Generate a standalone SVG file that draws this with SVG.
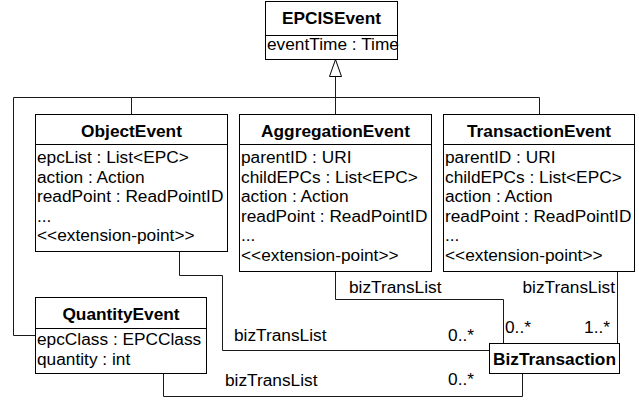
<svg xmlns="http://www.w3.org/2000/svg" width="639" height="400" viewBox="0 0 639 400">
  <style>
    .box { fill: #ffffff; stroke: #000000; stroke-width: 1; }
    .sep { stroke: #000000; stroke-width: 1; }
    .title { font-family: "Liberation Sans", Arial, sans-serif; font-size: 17.3px; font-weight: bold; fill: #000000; text-anchor: middle; }
    .attr { font-family: "Liberation Sans", Arial, sans-serif; font-size: 17.3px; fill: #000000; }
    .lbl { font-family: "Liberation Sans", Arial, sans-serif; font-size: 17.3px; fill: #000000; }
    .end { text-anchor: end; }
    .wire { fill: none; stroke: #1a1a1a; stroke-width: 1; }
  </style>
  <rect width="639" height="400" fill="#ffffff"/>

  <!-- connectors: generalization tree and associations -->
  <g id="connectors">
    <path class="wire" d="M13.5 335.5 V97.5 H539.5 V114.5"/>
    <path class="wire" d="M131.5 97.5 V114.5"/>
    <path class="wire" d="M335.5 76.5 V114.5"/>
    <path class="wire" d="M13.5 335.5 H35.5"/>
    <polygon points="335.5,59.5 341.5,76.5 329.5,76.5" fill="#ffffff" stroke="#000000" stroke-width="1"/>

    <path class="wire" d="M179.5 251.5 V275.5 H222.5 V350.5 H489.5"/>
    <path class="wire" d="M335.5 271.5 V299.5 H503.5 V343.5"/>
    <path class="wire" d="M617.5 271.5 V343.5"/>
    <path class="wire" d="M163.5 373.5 V396.5 H522.5 V373.5"/>

    <text class="lbl" x="349" y="293">bizTransList</text>
    <text class="lbl end" x="615" y="293">bizTransList</text>
    <text class="lbl" x="505" y="333">0..*</text>
    <text class="lbl end" x="610" y="333">1..*</text>
    <text class="lbl" x="234" y="340.5">bizTransList</text>
    <text class="lbl end" x="474" y="340.5">0..*</text>
    <text class="lbl" x="225" y="386">bizTransList</text>
    <text class="lbl end" x="474" y="385">0..*</text>
  </g>

  <g id="EPCISEvent">
    <rect class="box" x="265.5" y="1.5" width="132" height="58"/>
    <line class="sep" x1="265.5" y1="35.5" x2="397.5" y2="35.5"/>
    <text class="title" x="331.5" y="24">EPCISEvent</text>
    <text class="attr" x="267" y="50">eventTime : Time</text>
  </g>

  <g id="ObjectEvent">
    <rect class="box" x="35.5" y="114.5" width="192" height="137"/>
    <line class="sep" x1="35.5" y1="144.5" x2="227.5" y2="144.5"/>
    <text class="title" x="131.5" y="136.5">ObjectEvent</text>
    <text class="attr" x="37" y="163">epcList : List&lt;EPC&gt;</text>
    <text class="attr" x="37" y="182.5">action : Action</text>
    <text class="attr" x="37" y="202">readPoint : ReadPointID</text>
    <text class="attr" x="37" y="221.5">...</text>
    <text class="attr" x="37" y="241">&lt;&lt;extension-point&gt;&gt;</text>
  </g>

  <g id="AggregationEvent">
    <rect class="box" x="239.5" y="114.5" width="192" height="157"/>
    <line class="sep" x1="239.5" y1="144.5" x2="431.5" y2="144.5"/>
    <text class="title" x="335.5" y="136.5">AggregationEvent</text>
    <text class="attr" x="241" y="163">parentID : URI</text>
    <text class="attr" x="241" y="182.5">childEPCs : List&lt;EPC&gt;</text>
    <text class="attr" x="241" y="202">action : Action</text>
    <text class="attr" x="241" y="221.5">readPoint : ReadPointID</text>
    <text class="attr" x="241" y="241">...</text>
    <text class="attr" x="241" y="260.5">&lt;&lt;extension-point&gt;&gt;</text>
  </g>

  <g id="TransactionEvent">
    <rect class="box" x="443.5" y="114.5" width="191" height="157"/>
    <line class="sep" x1="443.5" y1="144.5" x2="634.5" y2="144.5"/>
    <text class="title" x="539" y="136.5">TransactionEvent</text>
    <text class="attr" x="445" y="163">parentID : URI</text>
    <text class="attr" x="445" y="182.5">childEPCs : List&lt;EPC&gt;</text>
    <text class="attr" x="445" y="202">action : Action</text>
    <text class="attr" x="445" y="221.5">readPoint : ReadPointID</text>
    <text class="attr" x="445" y="241">...</text>
    <text class="attr" x="445" y="260.5">&lt;&lt;extension-point&gt;&gt;</text>
  </g>

  <g id="QuantityEvent">
    <rect class="box" x="35.5" y="297.5" width="171" height="76"/>
    <line class="sep" x1="35.5" y1="328.5" x2="206.5" y2="328.5"/>
    <text class="title" x="121" y="319.5">QuantityEvent</text>
    <text class="attr" x="37" y="345">epcClass : EPCClass</text>
    <text class="attr" x="37" y="364.5">quantity : int</text>
  </g>

  <g id="BizTransaction">
    <rect class="box" x="489.5" y="343.5" width="130" height="30"/>
    <text class="title" x="554.5" y="365">BizTransaction</text>
  </g>
</svg>
